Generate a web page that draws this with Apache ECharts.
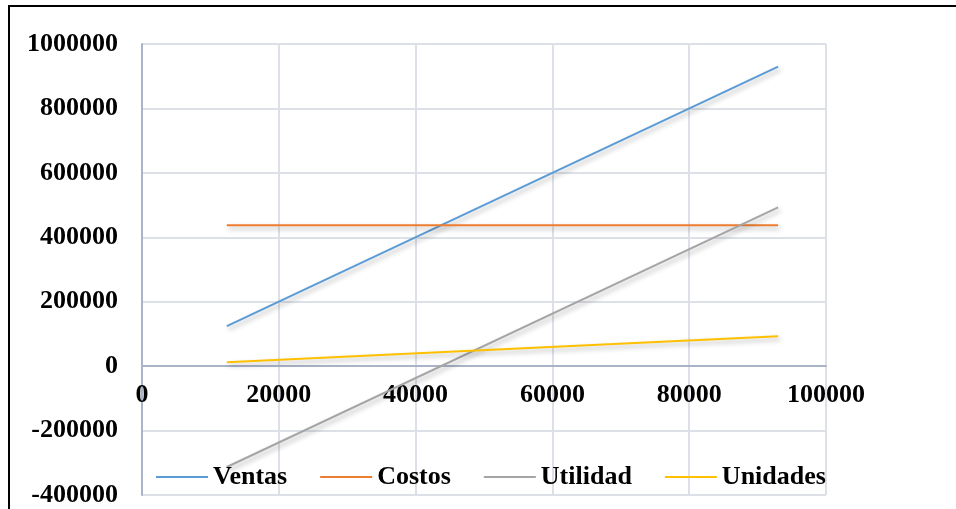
<!DOCTYPE html>
<html>
<head>
<meta charset="utf-8">
<script src="https://cdn.jsdelivr.net/npm/echarts@6/dist/echarts.min.js"></script>
<style>
html,body{margin:0;padding:0;background:#fff;}
#frame{position:absolute;left:8px;top:5px;width:960px;height:520px;border-left:2px solid #000;border-top:2px solid #000;}
#chart{position:absolute;left:0;top:0;width:956px;height:509px;}
</style>
</head>
<body>
<div id="frame"></div>
<div id="chart"></div>
<script>
const unidadesX = [12400, 93000];
const ventas = [124000, 930000];
const costos = [437000, 437000];
const utilidad = [-313000, 493000];
const unidades = [12400, 93000];
const seriesNames = ['Ventas', 'Costos', 'Utilidad', 'Unidades'];
const colors = ['#5b9bd5', '#ed7d31', '#a5a5a5', '#ffc000'];

const pair = (ys) => unidadesX.map((x, i) => [x, ys[i]]);
const allData = [ventas, costos, utilidad, unidades];

const font = {fontFamily: 'Liberation Serif', fontWeight: 'bold', fontSize: 26, color: '#000'};
const plain = (v) => String(v);

const chart = echarts.init(document.getElementById('chart'), null, {renderer: 'canvas'});
chart.setOption({
  animation: false,
  backgroundColor: 'transparent',
  color: colors,
  grid: {left: 142, right: 130, top: 44, bottom: 14, containLabel: false, outerBoundsMode: 'none'},
  legend: {
    data: seriesNames,
    left: 150, top: 459,
    itemWidth: 52, itemHeight: 14, itemGap: 32,
    itemStyle: {opacity: 0},
    textStyle: Object.assign({}, font, {padding: [0, 0, 0, 0]}),
  },
  xAxis: {
    type: 'value', min: 0, max: 100000, interval: 20000,
    position: 'bottom', offset: -129,
    axisLine: {show: true, onZero: false, lineStyle: {color: '#a9b4c8', width: 2}},
    axisTick: {show: false},
    axisLabel: Object.assign({margin: 16, formatter: plain}, font),
    splitLine: {show: true, lineStyle: {color: '#dde1e7', width: 2}},
  },
  yAxis: {
    type: 'value', min: -400000, max: 1000000, interval: 200000,
    axisLine: {show: true, onZero: false, lineStyle: {color: '#a9b4c8', width: 2}},
    axisTick: {show: false},
    axisLabel: Object.assign({margin: 24, formatter: plain}, font),
    splitLine: {show: true, lineStyle: {color: '#dde1e7', width: 2}},
  },
  series: seriesNames.map((n, i) => ({
    name: n, type: 'line', data: pair(allData[i]),
    symbol: 'none', showSymbol: false,
    lineStyle: {width: 2, color: colors[i], shadowColor: 'rgba(0,0,0,0.3)', shadowBlur: 5, shadowOffsetX: 2, shadowOffsetY: 3},
    itemStyle: {color: colors[i]},
  })),
});
</script>
</body>
</html>
